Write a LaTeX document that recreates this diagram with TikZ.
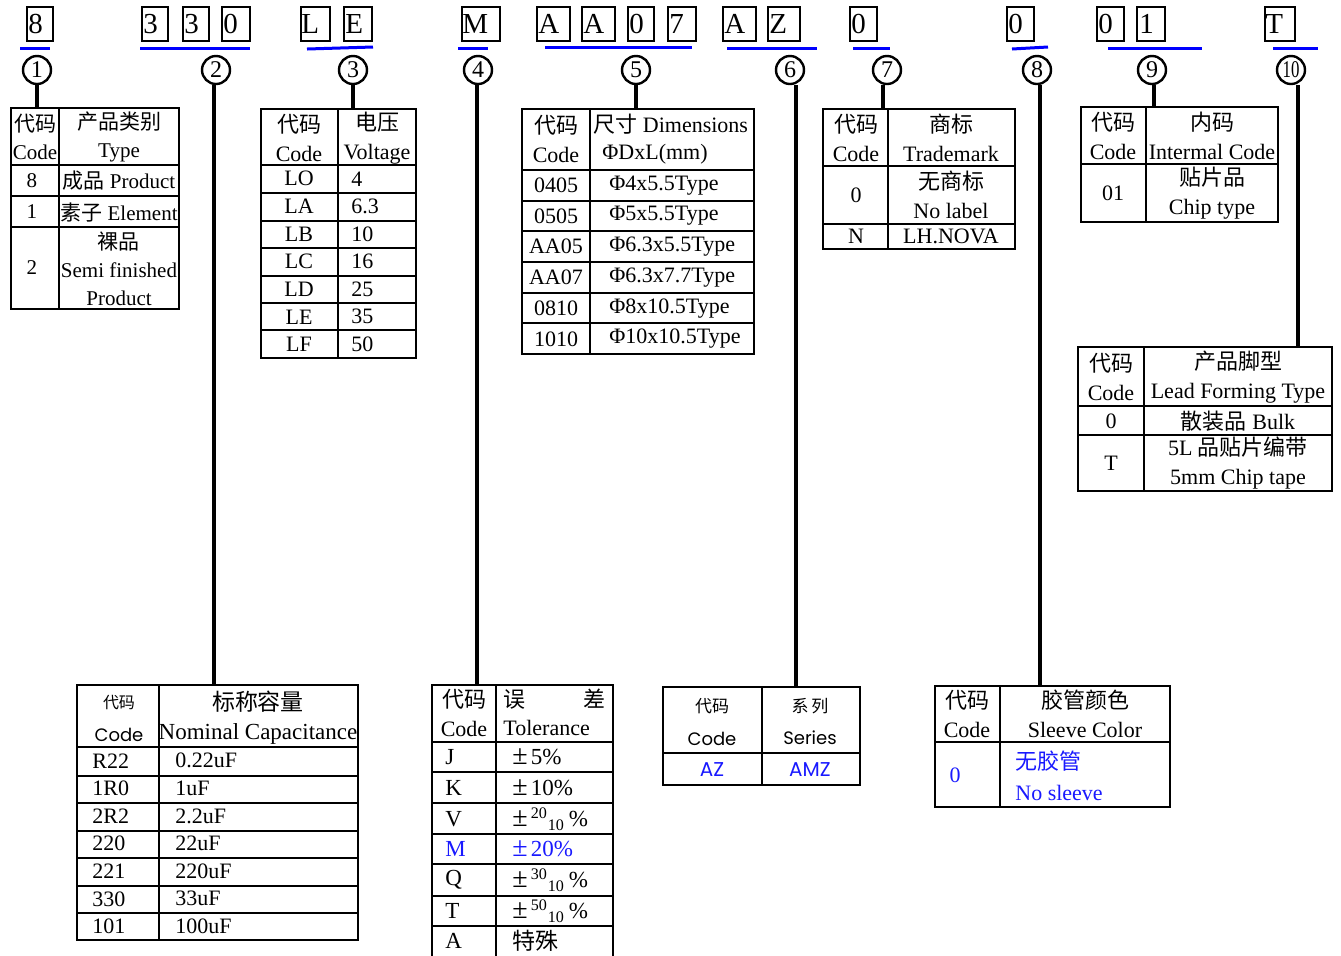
\documentclass[tikz,border=0pt]{standalone}
\usepackage{fontspec}
\setmainfont{Liberation Serif}
\newfontfamily\cjk{Noto Sans CJK SC}
\newfontfamily\geo{Poppins}

\newcommand{\cellbox}[2]% left x, right x
{(#1,7) rectangle (#2,41)
}
\newcommand{\codehead}{{\cjk 代码}\\Code}
\newcommand{\pmsign}{{\fontsize{14}{14}\selectfont ±}\kern1.5pt}

\tikzset{
  tab/.style={line width=1.1pt},
  lead/.style={line width=2pt},
  uline/.style={blue, line width=1.5pt},
  charline/.style={line width=1.2pt},
  letter/.style={anchor=base west, inner sep=0pt, font=\fontsize{14.5}{14.5}\selectfont},
  num/.style={draw, circle, line width=1.2pt, minimum size=14pt, inner sep=0pt, font=\fontsize{12}{12}\selectfont},
  cell/.style={align=center, inner sep=0pt},
  lcell/.style={anchor=west, inner sep=0pt},
}

\begin{document}
\begin{tikzpicture}[x=0.5pt, y=-0.5pt, font=\fontsize{11}{14.5}\selectfont]

\definecolor{codeblue}{rgb}{0.1,0.1,1}

\useasboundingbox (0,0) rectangle (1341,955);

% part number
\draw[charline] \cellbox{27}{53};     \node[letter] (k1) at (28,33) {8};
\draw[charline] \cellbox{142}{168};   \node[letter] (k2) at (143,33) {3};
\draw[charline] \cellbox{183}{209};   \node[letter] (k3) at (184,33) {3};
\draw[charline] \cellbox{222}{250};   \node[letter] (k4) at (223,33) {0};
\draw[charline] \cellbox{301}{330};   \node[letter] (k5) at (301,33) {L};
\draw[charline] \cellbox{344}{372};   \node[letter] (k6) at (345,33) {E};
\draw[charline] \cellbox{462}{500};   \node[letter] (k7) at (462,33) {M};
\draw[charline] \cellbox{537}{570};   \node[letter] (k8) at (538,33) {A};
\draw[charline] \cellbox{582}{615};   \node[letter] (k9) at (583,33) {A};
\draw[charline] \cellbox{628}{654};   \node[letter] (k10) at (629,33) {0};
\draw[charline] \cellbox{668}{696};   \node[letter] (k11) at (669,33) {7};
\draw[charline] \cellbox{723}{756};   \node[letter] (k12) at (724,33) {A};
\draw[charline] \cellbox{768}{800};   \node[letter] (k13) at (769,33) {Z};
\draw[charline] \cellbox{850}{877};   \node[letter] (k14) at (851,33) {0};
\draw[charline] \cellbox{1007}{1034}; \node[letter] (k15) at (1008,33) {0};
\draw[charline] \cellbox{1097}{1124}; \node[letter] (k16) at (1098,33) {0};
\draw[charline] \cellbox{1137}{1165}; \node[letter] (k17) at (1139,33) {1};
\draw[charline] \cellbox{1265}{1295}; \node[letter] (k18) at (1265,33) {T};

\draw[uline] (20,48) -- (50,48);
\draw[uline] (140,48) -- (250,48);
\draw[uline] (307,49) -- (373,47);
\draw[uline] (458,48) -- (488,48);
\draw[uline] (545,47) -- (692,47);
\draw[uline] (727,48) -- (817,48);
\draw[uline] (853,48) -- (890,48);
\draw[uline] (1012,49) -- (1048,47);
\draw[uline] (1108,48) -- (1202,48);
\draw[uline] (1273,48) -- (1318,48);

\foreach \i/\x in {1/37,2/216,3/353,4/478,5/636,6/790,7/887,8/1037,9/1152}
  \node[num] (n\i) at (\x,70) {\i};
\node[num] (n10) at (1291,70) {\scalebox{0.7}[1]{10}};

% table 1: type
\draw[tab] (11,108) rectangle (179,309);
\draw[tab] (59,108) -- (59,309);
\foreach \y in {165,196,227} \draw[tab] (11,\y) -- (179,\y);
\begin{scope}[font=\fontsize{10.5}{14}\selectfont]
\node[cell] (h1a) at (35,137) {\codehead};
\node[cell] (h1b) at (119,137) {{\cjk 产品类别}\\Type};
\node[cell] (c1a) at (32,181) {8};
\node[cell] (v1a) at (119,181) {{\cjk 成品} Product};
\node[cell] (c1b) at (32,212) {1};
\node[cell] (v1b) at (119,212) {{\cjk 素子} Element};
\node[cell] (c1c) at (32,268) {2};
\node[cell] (v1c) at (119,269) {{\cjk 裸品}\\Semi finished\\Product};
\end{scope}

% table 2: nominal capacitance
\draw[tab] (77,685) rectangle (358,940);
\draw[tab] (159,685) -- (159,940);
\foreach \y in {747,776,803,831,858,886,913} \draw[tab] (77,\y) -- (358,\y);
\node[cell, font=\cjk\fontsize{8}{8}\selectfont] (h2a) at (119,703) {代码};
\node[cell, font=\geo\fontsize{9}{9}\selectfont] (h2b) at (119,735) {Code};
\node[cell, font=\fontsize{11.5}{14.5}\selectfont] (h2c) at (258,718) {{\cjk 标称容量}\\Nominal Capacitance};
\foreach \c/\val [count=\k] in {R22/0.22uF,1R0/1uF,2R2/2.2uF,220/22uF,221/220uF,330/33uF,101/100uF} {
  \node[lcell] (c2\k) at (92,747+27.6*\k-13.8) {\c};
  \node[lcell] (v2\k) at (175,747+27.6*\k-13.8) {\val};
}

% table 3: voltage
\draw[tab] (261,109) rectangle (416,358);
\draw[tab] (338,109) -- (338,358);
\foreach \y in {165,193,221,248,276,303,330} \draw[tab] (261,\y) -- (416,\y);
\node[cell] (h3a) at (299,138) {\codehead};
\node[cell] (h3b) at (377,138) {{\cjk 电压}\\Voltage};
\foreach \c/\val [count=\k] in {LO/4,LA/6.3,LB/10,LC/16,LD/25,LE/35,LF/50} {
  \node[cell] (c3\k) at (299,165+27.6*\k-13.8) {\c};
  \node[lcell] (v3\k) at (351,165+27.6*\k-13.8) {\val};
}

% table 4: tolerance
\draw[tab] (432,958) -- (432,685) -- (613,685) -- (613,958);
\draw[tab] (496,685) -- (496,958);
\foreach \y in {742,772,803,834,864,896,926} \draw[tab] (432,\y) -- (613,\y);
\node[cell] (h4a) at (464,713) {\codehead};
\node[lcell] (h4b) at (503,699) {\cjk 误};
\node[anchor=east, inner sep=0pt] (h4c) at (606,699) {\cjk 差};
\node[lcell] (h4d) at (503,728) {Tolerance};
\begin{scope}[font=\fontsize{11.5}{14}\selectfont]
\node[lcell] (c41) at (445,757) {J};
\node[lcell] (v41) at (512,757) {\pmsign5\%};
\node[lcell] (c42) at (445,788) {K};
\node[lcell] (v42) at (512,788) {\pmsign10\%};
\node[lcell] (c43) at (445,819) {V};
\node[lcell] (v43) at (512,819) {\pmsign\textsuperscript{20}\textsubscript{10}\,\%};
\node[lcell, codeblue] (c44) at (445,849) {M};
\node[lcell, codeblue] (v44) at (512,849) {\pmsign20\%};
\node[lcell] (c45) at (445,880) {Q};
\node[lcell] (v45) at (512,880) {\pmsign\textsuperscript{30}\textsubscript{10}\,\%};
\node[lcell] (c46) at (445,911) {T};
\node[lcell] (v46) at (512,911) {\pmsign\textsuperscript{50}\textsubscript{10}\,\%};
\node[lcell] (c47) at (445,941) {A};
\node[lcell] (v47) at (512,941) {\cjk 特殊};
\end{scope}

% table 5: dimensions
\draw[tab] (522,109) rectangle (754,354);
\draw[tab] (590,109) -- (590,354);
\foreach \y in {170,200.7,231.3,262,292.7,323.3} \draw[tab] (522,\y) -- (754,\y);
\node[cell] (h5a) at (556,139) {\codehead};
\node[lcell] (h5b) at (593,124) {{\cjk 尺寸} Dimensions};
\node[cell] (h5c) at (655,154) {ΦDxL(mm)};
\foreach \c/\val [count=\k] in {0405/4x5.5,0505/5x5.5,AA05/6.3x5.5,AA07/6.3x7.7,0810/8x10.5,1010/10x10.5} {
  \node[cell] (c5\k) at (556,170+30.7*\k-15.35) {\c};
  \node[lcell] (v5\k) at (609,170+30.7*\k-15.35) {Φ\val Type};
}

% table 6: series
\draw[tab] (663,687) rectangle (860,785);
\draw[tab] (762,687) -- (762,785);
\draw[tab] (663,753) -- (860,753);
\node[cell, font=\cjk\fontsize{8.5}{8.5}\selectfont] (h6a) at (712,706) {代码};
\node[cell, font=\geo\fontsize{9}{9}\selectfont] (h6b) at (712,739) {Code};
\node[cell, font=\cjk\fontsize{8.5}{8.5}\selectfont] (h6c) at (810,706) {系\,列};
\node[cell, font=\geo\fontsize{9}{9}\selectfont] (h6d) at (810,738) {Series};
\node[cell, codeblue, font=\geo\fontsize{10}{10}\selectfont] (c61) at (712,770) {AZ};
\node[cell, codeblue, font=\geo\fontsize{10}{10}\selectfont] (v61) at (810,770) {AMZ};

% table 7: trademark
\draw[tab] (823,109) rectangle (1015,249);
\draw[tab] (888,109) -- (888,249);
\foreach \y in {166,224} \draw[tab] (823,\y) -- (1015,\y);
\node[cell] (h7a) at (856,138) {\codehead};
\node[cell] (h7b) at (951,138) {{\cjk 商标}\\Trademark};
\node[cell] (c71) at (856,195) {0};
\node[cell] (v71) at (951,195) {{\cjk 无商标}\\No label};
\node[cell] (c72) at (856,236) {N};
\node[cell] (v72) at (951,236) {LH.NOVA};

% table 8: sleeve color
\draw[tab] (935,686) rectangle (1170,807);
\draw[tab] (1000,686) -- (1000,807);
\draw[tab] (935,742) -- (1170,742);
\node[cell] (h8a) at (967,714) {\codehead};
\node[cell] (h8b) at (1085,714) {{\cjk 胶管颜色}\\Sleeve Color};
\node[cell, codeblue] (c81) at (955,775) {0};
\node[lcell, codeblue] (v81) at (1015,761) {\cjk 无胶管};
\node[lcell, codeblue] (v82) at (1015,793) {No sleeve};

% table 9: internal code
\draw[tab] (1081,107) rectangle (1278,222);
\draw[tab] (1146,107) -- (1146,222);
\draw[tab] (1081,164) -- (1278,164);
\node[cell] (h9a) at (1113,136) {\codehead};
\node[cell] (h9b) at (1212,136) {{\cjk 内码}\\Intermal Code};
\node[cell] (c91) at (1113,193) {01};
\node[cell] (v91) at (1212,193) {{\cjk 贴片品}\\Chip type};

% table 10: lead forming
\draw[tab] (1078,347) rectangle (1332,491);
\draw[tab] (1144,347) -- (1144,491);
\foreach \y in {406,435} \draw[tab] (1078,\y) -- (1332,\y);
\node[cell] (h10a) at (1111,377) {\codehead};
\node[cell] (h10b) at (1238,377) {{\cjk 产品脚型}\\Lead Forming Type};
\node[cell] (c101) at (1111,421) {0};
\node[cell] (v101) at (1238,421) {{\cjk 散装品} Bulk};
\node[cell] (c102) at (1111,463) {T};
\node[cell] (v102) at (1238,463) {5L {\cjk 品贴片编带}\\5mm Chip tape};

% leads
\coordinate (t1) at (37,108);
\coordinate (t2) at (214,685);
\coordinate (t3) at (353,109);
\coordinate (t4) at (477,685);
\coordinate (t5) at (636,109);
\coordinate (t6) at (796,687);
\coordinate (t7) at (883,109);
\coordinate (t8) at (1040,686);
\coordinate (t9) at (1154,107);
\coordinate (t10) at (1298,347);
\foreach \i in {1,...,10}
  \draw[lead] (t\i |- n\i.south) -- (t\i);

\end{tikzpicture}
\end{document}
